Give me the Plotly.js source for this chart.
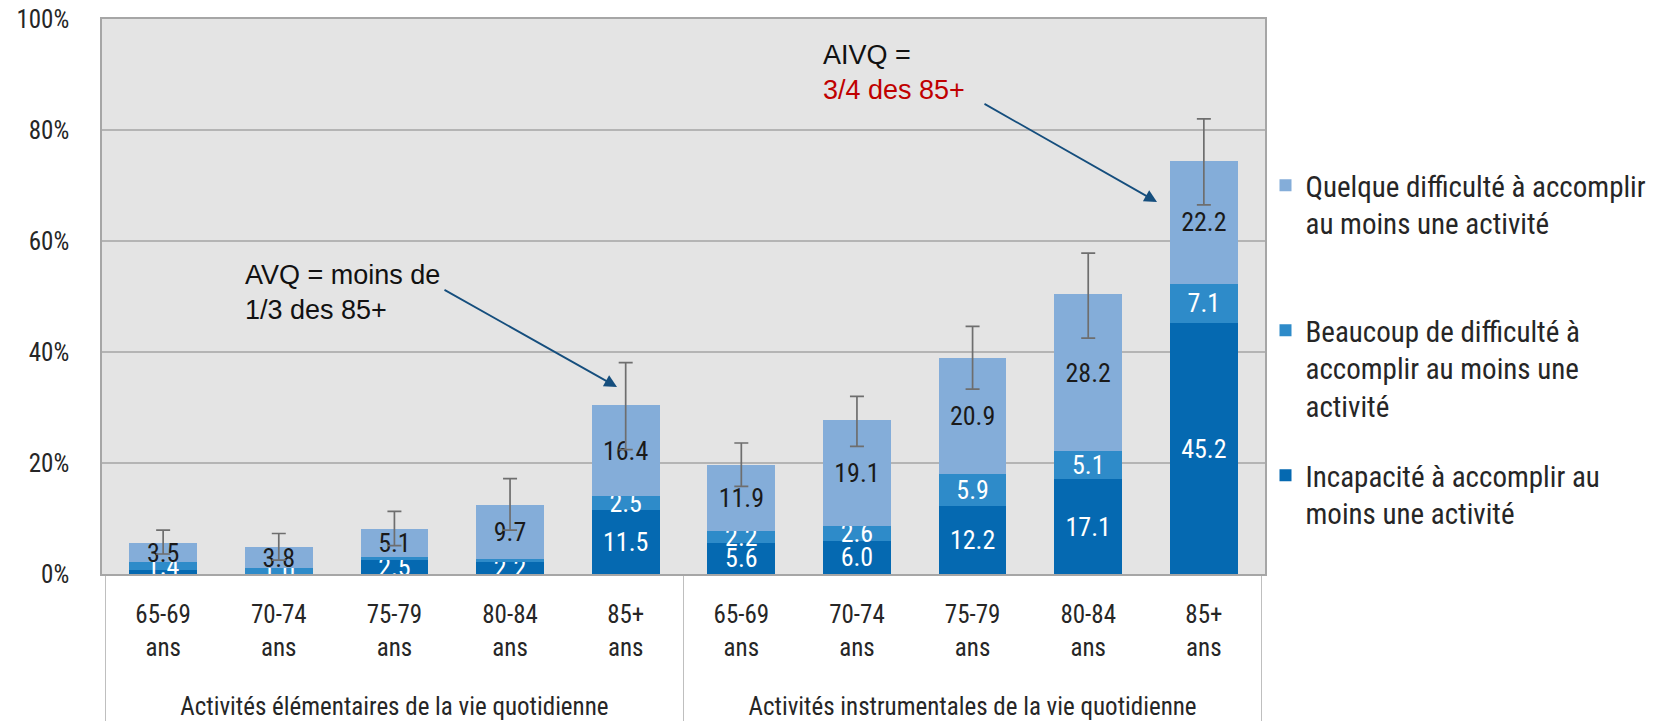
<!DOCTYPE html>
<html>
<head>
<meta charset="utf-8">
<script src="https://cdn.plot.ly/plotly-3.0.1.min.js"></script>
<style>html,body{margin:0;padding:0;background:#fff;}#chart{width:1659px;height:721px;}</style>
</head>
<body>
<div id="chart"></div>
<script>
// ---- data ----
const groups = ['Activités élémentaires de la vie quotidienne', 'Activités instrumentales de la vie quotidienne'];
const ageLabels = ['65-69<br>ans', '70-74<br>ans', '75-79<br>ans', '80-84<br>ans', '85+<br>ans'];
const incapacite = [0.7, 0.0, 2.5, 2.2, 11.5, 5.6, 6.0, 12.2, 17.1, 45.2];
const beaucoup   = [1.4, 1.0, 0.5, 0.5, 2.5, 2.2, 2.6, 5.9, 5.1, 7.1];
const quelque    = [3.5, 3.8, 5.1, 9.7, 16.4, 11.9, 19.1, 20.9, 28.2, 22.2];
const errPlus    = [2.3, 2.5, 3.2, 4.8, 7.7, 3.9, 4.3, 5.6, 7.4, 7.5];
const errMinus   = [2.0, 2.3, 3.0, 4.5, 8.0, 3.9, 4.7, 5.7, 7.9, 8.0];
const seriesNames = [
  'Quelque difficulté à accomplir<br>au moins une activité',
  'Beaucoup de difficulté à<br>accomplir au moins une<br>activité',
  'Incapacité à accomplir au<br>moins une activité'
];
const yTicks = [0, 20, 40, 60, 80, 100];

// ---- build ----
// trailing blank line only spaces the group labels further from the age labels
const spacer = '<br><span style="font-size:76px">&nbsp;</span>';
const x = [groups.flatMap(g => ageLabels.map(() => g)), groups.flatMap(() => ageLabels.map(a => a + spacer))];
const totals = incapacite.map((v, i) => v + beaucoup[i] + quelque[i]);
const lbl = arr => arr.map(v => v >= 1 ? v.toFixed(1) : '');
const FONT = '"Liberation Sans Narrow", "Roboto Condensed", "Arial Narrow", Roboto, sans-serif';
const ARIAL = '"Liberation Sans", Arial, sans-serif';

function barTrace(vals, name, color, textColor, legendId) {
  return {
    type: 'bar', x: x, y: vals, name: name,
    marker: {color: color},
    text: lbl(vals), textposition: 'inside', insidetextanchor: 'middle',
    textangle: 0, constraintext: 'none',
    textfont: {family: FONT, size: 26, color: textColor},
    legend: legendId, hoverinfo: 'y+name'
  };
}

const traces = [
  barTrace(incapacite, seriesNames[2], '#0569B1', '#ffffff', 'legend3'),
  barTrace(beaucoup, seriesNames[1], '#2E8BC9', '#ffffff', 'legend2'),
  barTrace(quelque, seriesNames[0], '#84ADD9', '#1a1a1a', 'legend'),
  {
    type: 'scatter', mode: 'markers', x: x, y: totals,
    marker: {size: 1, opacity: 0}, showlegend: false, hoverinfo: 'skip',
    error_y: {type: 'data', symmetric: false, array: errPlus, arrayminus: errMinus,
              color: '#6E6E6E', thickness: 1.7, width: 7}
  }
];

const P = px => (px - 102) / 1163;
const Q = py => (574 - py) / 555;

function legendAt(topPx) {
  return {xref: 'container', yref: 'container', x: 1265.5 / 1659, xanchor: 'left',
          y: 1 - topPx / 721, yanchor: 'top',
          bgcolor: 'rgba(0,0,0,0)', valign: 'top', itemclick: false, itemdoubleclick: false,
          font: {family: FONT, size: 29, color: '#262626'}};
}

const layout = {
  width: 1659, height: 721,
  margin: {l: 102, r: 394, t: 19, b: 147, pad: 0, autoexpand: false},
  paper_bgcolor: '#ffffff', plot_bgcolor: '#E4E4E4',
  barmode: 'stack', bargap: 0.415,
  uniformtext: {mode: 'show', minsize: 26},
  font: {family: FONT, size: 25, color: '#262626'},
  xaxis: {
    type: 'multicategory', showline: true, linecolor: '#A6A6A6', linewidth: 2, mirror: true,
    ticks: '', ticklabelstandoff: 17,
    showdividers: true, dividercolor: '#BFBFBF', dividerwidth: 1,
    tickfont: {family: FONT, size: 25, color: '#262626'}
  },
  yaxis: {
    range: [0, 100], tickvals: yTicks, ticktext: yTicks.map(v => v + '%'),
    showgrid: true, gridcolor: '#B4B4B4', gridwidth: 1.5, zeroline: false,
    showline: true, linecolor: '#A6A6A6', linewidth: 1.5, mirror: true,
    ticks: 'outside', ticklen: 26, tickcolor: 'rgba(0,0,0,0)',
    tickfont: {family: FONT, size: 25, color: '#262626'}
  },
  legend: legendAt(160),
  legend2: legendAt(305),
  legend3: legendAt(450),
  showlegend: true,
  annotations: [
    {xref: 'paper', yref: 'paper', x: P(243), y: Q(258), xanchor: 'left', yanchor: 'top', align: 'left',
     showarrow: false, text: 'AVQ = moins de<br>1/3 des 85+', font: {family: ARIAL, size: 27, color: '#111111'}},
    {xref: 'paper', yref: 'paper', x: P(617), y: Q(387), showarrow: true, text: '',
     ax: -174, ay: -98, arrowhead: 2, arrowsize: 1.4, arrowwidth: 1.8, arrowcolor: '#154E7D', standoff: 0},
    {xref: 'paper', yref: 'paper', x: P(821), y: Q(38), xanchor: 'left', yanchor: 'top', align: 'left',
     showarrow: false, text: 'AIVQ =<br><span style="color:#C00000">3/4 des 85+</span>',
     font: {family: ARIAL, size: 27, color: '#111111'}},
    {xref: 'paper', yref: 'paper', x: P(1157), y: Q(202), showarrow: true, text: '',
     ax: -174, ay: -99, arrowhead: 2, arrowsize: 1.4, arrowwidth: 1.8, arrowcolor: '#154E7D', standoff: 0}
  ]
};

Plotly.newPlot('chart', traces, layout, {displayModeBar: false, responsive: false});
</script>
</body>
</html>
